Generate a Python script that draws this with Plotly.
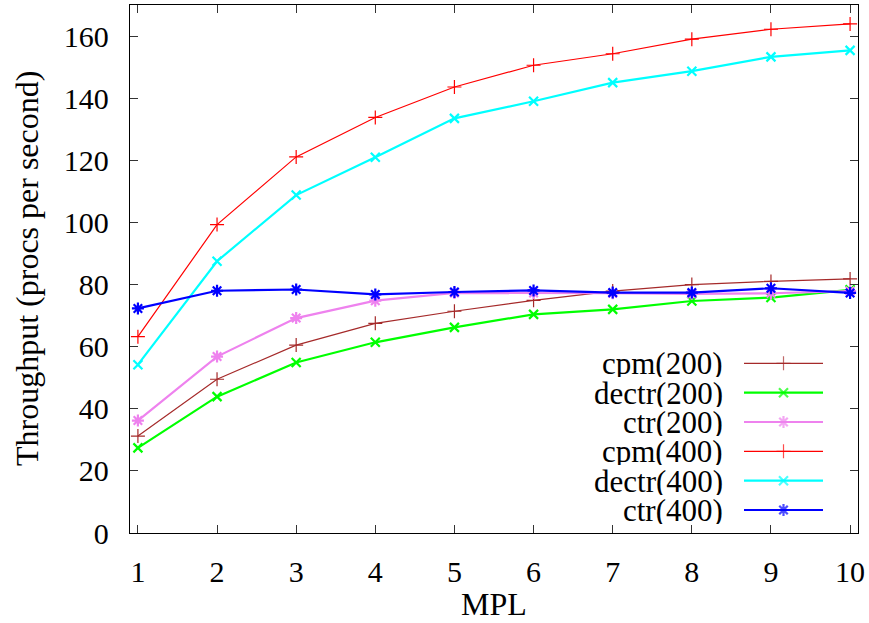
import plotly.graph_objects as go

# ---- data ----
mpl = [1, 2, 3, 4, 5, 6, 7, 8, 9, 10]
cpm_200 = [31.2, 49.5, 60.5, 67.5, 71.4, 74.9, 77.9, 80.0, 81.0, 81.8]
dectr_200 = [27.4, 43.9, 54.9, 61.4, 66.2, 70.4, 72.0, 74.7, 75.8, 78.3]
ctr_200 = [36.2, 56.8, 69.2, 74.8, 77.3, 77.3, 77.2, 77.0, 77.2, 77.9]
cpm_400 = [63.2, 99.3, 121.1, 133.8, 143.6, 150.6, 154.3, 159.0, 162.2, 163.9]
dectr_400 = [54.2, 87.5, 108.8, 121.0, 133.5, 139.0, 145.0, 148.7, 153.3, 155.4]
ctr_400 = [72.3, 78.0, 78.4, 76.8, 77.6, 78.1, 77.4, 77.4, 78.8, 77.3]

names = ["cpm(200)", "dectr(200)", "ctr(200)", "cpm(400)", "dectr(400)", "ctr(400)"]
series = [cpm_200, dectr_200, ctr_200, cpm_400, dectr_400, ctr_400]
colors = ["#a52a2a", "#00ff00", "#ee82ee", "#ff0000", "#00ffff", "#0000ff"]
symbols = ["cross-thin-open", "x-thin-open", "asterisk-open",
           "cross-thin-open", "x-thin-open", "asterisk-open"]
widths = [1.2, 2.2, 2.2, 1.2, 2.2, 2.2]
msizes = [10, 9, 10, 10, 9, 10]

FONT = "'Liberation Serif', 'DejaVu Serif', serif"
W, H = 869, 623
L, R, T, B = 130, 11, 5, 90
PW, PH = W - L - R, H - T - B

def px_x(px):
    return (px - L) / PW

def px_y(py):
    return (H - B - py) / PH

fig = go.Figure()
for name, ys, c, s, w, ms in zip(names, series, colors, symbols, widths, msizes):
    fig.add_trace(go.Scatter(
        x=mpl, y=ys, mode="lines+markers", name=name,
        line=dict(color=c, width=w),
        marker=dict(symbol=s, size=ms, color=c, line=dict(color=c, width=w)),
        showlegend=False,
    ))

# custom gnuplot-style legend (text left, sample right)
row_y = [363.3, 392.7, 422.0, 451.3, 480.7, 510.0]
text_right = 724
line_x0, line_x1, mark_x = 744, 823, 783.5
for name, c, s, w, ms, ry in zip(names, colors, symbols, widths, msizes, row_y):
    fig.add_annotation(x=px_x(text_right), y=px_y(ry), xref="paper", yref="paper",
                       text=name, showarrow=False, xanchor="right", yanchor="middle",
                       height=28, valign="middle", borderpad=0,
                       font=dict(family=FONT, size=31, color="black"))
    fig.add_trace(go.Scatter(
        x=[px_x(line_x0), px_x(mark_x), px_x(line_x1)], y=[px_y(ry)] * 3,
        xaxis="x2", yaxis="y2", mode="lines+markers",
        line=dict(color=c, width=w),
        marker=dict(symbol=s, size=[0, ms, 0], color=c, line=dict(color=c, width=w)),
        showlegend=False, hoverinfo="skip",
    ))

axis_common = dict(
    showline=True, linecolor="black", linewidth=1.3, mirror="allticks",
    ticks="inside", ticklen=8, tickwidth=1, tickcolor="#333333",
    showgrid=False, zeroline=False,
    tickfont=dict(family=FONT, size=30, color="black"),
)

fig.update_layout(
    width=W, height=H,
    margin=dict(l=L, r=R, t=T, b=B),
    paper_bgcolor="white", plot_bgcolor="white",
    font=dict(family=FONT),
    xaxis=dict(range=[0.9, 10.1], tickvals=mpl, ticklabelstandoff=12, **axis_common),
    yaxis=dict(range=[0, 170], tickvals=list(range(0, 161, 20)), ticklabelstandoff=14, **axis_common),
    xaxis2=dict(overlaying="x", range=[0, 1], visible=False),
    yaxis2=dict(overlaying="y", range=[0, 1], visible=False),
    showlegend=False,
)

fig.add_annotation(x=0.5, y=px_y(604), xref="paper", yref="paper", text="MPL",
                   showarrow=False, xanchor="center", yanchor="middle",
                   font=dict(family=FONT, size=32, color="black"))
fig.add_annotation(x=px_x(27), y=0.5, xref="paper", yref="paper",
                   text="Throughput (procs per second)", textangle=-90,
                   showarrow=False, xanchor="center", yanchor="middle",
                   font=dict(family=FONT, size=32, color="black"))

fig.write_html("out.html", config={"displayModeBar": False},
               post_script="document.body.style.margin='0px';")
